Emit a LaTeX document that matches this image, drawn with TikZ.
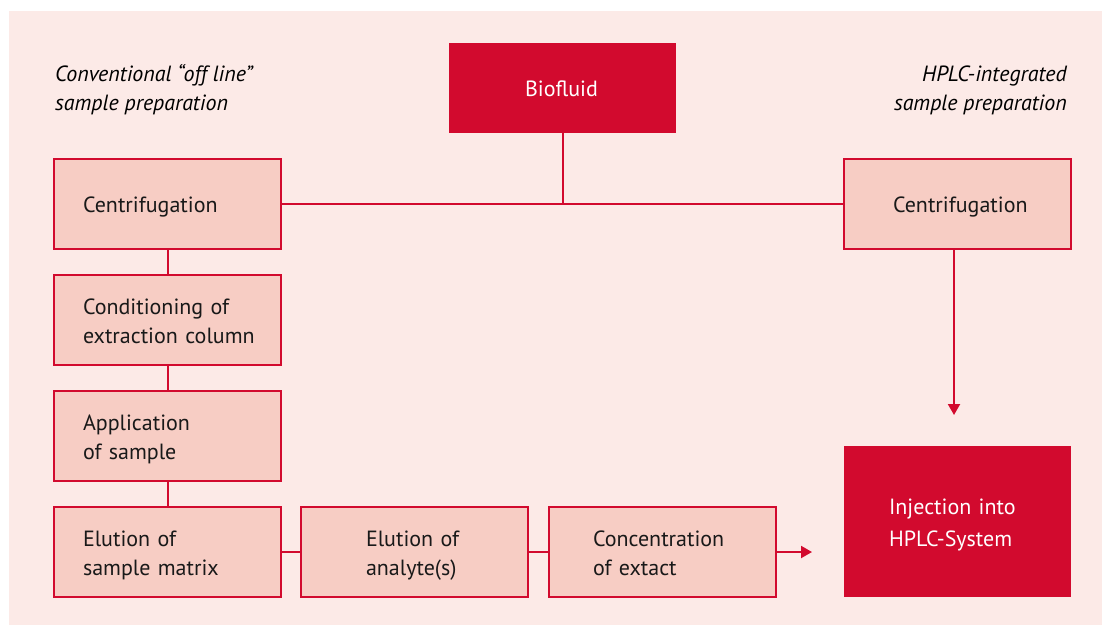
\documentclass[tikz,border=0pt]{standalone}
\usepackage{fontspec}
\setmainfont{PT Sans}
\usetikzlibrary{arrows.meta, positioning}
\definecolor{bgpink}{RGB}{252,234,231}
\definecolor{boxpink}{RGB}{247,205,196}
\definecolor{hplcred}{RGB}{210,10,46}
\tikzset{
		stepbox/.style={draw=hplcred, line width=2pt, fill=boxpink, text=black!90, outer sep=0pt,
			minimum width=227pt, minimum height=90pt, inner sep=0pt, text width=227pt, align=left,
			execute at begin node={\leftskip=#1\rule{0pt}{22pt}},
			execute at end node={\rule[-5pt]{0pt}{5pt}}},
		stepbox/.default=29pt,
		redbox/.style={stepbox=#1, draw=none, fill=hplcred, text=white},
		redbox/.default=76pt,
		headline/.style={font=\fontsize{22}{29}\selectfont\itshape, align=left, inner sep=0pt},
		link/.style={draw=hplcred, line width=2pt}
	}

\begin{document}
\begin{tikzpicture}[x=1pt, y=-1pt, >={Triangle[width=12pt,length=11pt]}, node distance=26pt,
		font=\fontsize{22}{29}\selectfont]
				\useasboundingbox (0,0) rectangle (1102,625);
				\fill[bgpink] (9,11) rectangle (1102,625);

				\node[headline, anchor=west]               (offline) at (55,90)       {Conventional “off line”\\sample preparation};
				\node[headline, anchor=east, align=right]  (online)  at (1067,90)     {HPLC-integrated\\sample preparation};

				\node[redbox]                  (bio)    at (562.5,88)          {Biofluid};
				\node[stepbox]                 (cenL)   at (167.5,204)         {Centrifugation};
				\node[stepbox]                 (cond)   [below = of cenL]      {Conditioning of\\extraction column};
				\node[stepbox]                 (appl)   [below = of cond]      {Application\\of sample};
				\node[stepbox]                 (elumat) [below = of appl]      {Elution of\\sample matrix};
				\node[stepbox=65pt]            (eluana) [right = 20pt of elumat] {Elution of\\analyte(s)};
				\node[stepbox=44pt]            (conc)   [right = 21pt of eluana] {Concentration\\of extact};
				\node[stepbox=49pt]            (cenR)   at (957.5,204)         {Centrifugation};
				\node[redbox=45pt, minimum height=151pt, font=\fontsize{22}{32}\selectfont]
				                               (inj)    at (957.5,521.5)       {Injection into\\HPLC-System};

				\path[link]              (bio.south) -- (bio.south |- cenL.east);
				\path[link]              (cenL) -- (cenR);
				\path[link]              (cenL) -- (cond);
				\path[link]              (cond) -- (appl);
				\path[link]              (appl) -- (elumat);
				\path[link]              (elumat) -- (eluana);
				\path[link]              (eluana) -- (conc);
				\path[link, ->, shorten >=31pt] ([xshift=-3.5pt]cenR.south) -- ([xshift=-3.5pt]inj.north);
				\path[link, ->, shorten >=32pt] (conc.east) -- (conc.east -| inj.west);
			\end{tikzpicture}
\end{document}
